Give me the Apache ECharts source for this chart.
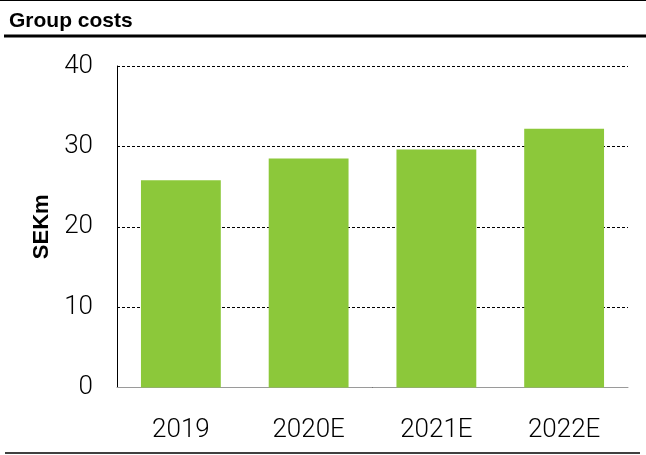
<!DOCTYPE html>
<html>
<head>
<meta charset="utf-8">
<script src="https://cdn.jsdelivr.net/npm/echarts@6/dist/echarts.min.js"></script>
<style>
  html, body { margin: 0; padding: 0; background: #fff; }
  #chart { width: 646px; height: 455px; }
</style>
</head>
<body>
<div id="chart"></div>
<script>
// Group costs, SEKm, actual 2019 and estimates 2020E-2022E
const categories = ['2019', '2020E', '2021E', '2022E'];
const groupCosts = [25.8, 28.5, 29.6, 32.2];
const yTicks = { min: 0, max: 40, interval: 10 };

const chart = echarts.init(document.getElementById('chart'), null, { renderer: 'canvas' });

chart.setOption({
  animation: false,
  backgroundColor: '#ffffff',
  title: {
    text: 'Group costs',
    left: 4,
    top: 6,
    textStyle: {
      fontFamily: 'Liberation Sans',
      fontWeight: 'bold',
      fontSize: 21,
      color: '#000'
    }
  },
  graphic: [
    // rule above the heading
    { type: 'line', shape: { x1: 0, y1: 0.5, x2: 646, y2: 0.5 }, style: { stroke: '#000', lineWidth: 1 } },
    // heavy rule under the heading
    { type: 'line', shape: { x1: 4, y1: 36, x2: 646, y2: 36 }, style: { stroke: '#000', lineWidth: 3 } },
    // closing rule under the chart
    { type: 'line', shape: { x1: 5, y1: 453, x2: 640, y2: 453 }, style: { stroke: '#000', lineWidth: 1.5 } }
  ],
  grid: { left: 117, right: 18, top: 66, bottom: 67.5 },
  xAxis: {
    type: 'category',
    data: categories,
    axisLine: { show: true, lineStyle: { color: '#9a9a9a', width: 1 } },
    axisTick: { show: false },
    axisLabel: {
      margin: 30,
      fontFamily: 'Roboto',
      fontWeight: 300,
      fontSize: 26,
      color: '#000'
    }
  },
  yAxis: {
    type: 'value',
    min: yTicks.min,
    max: yTicks.max,
    interval: yTicks.interval,
    name: 'SEKm',
    nameLocation: 'middle',
    nameGap: 64,
    nameTextStyle: {
      fontFamily: 'Liberation Sans',
      fontWeight: 'bold',
      fontSize: 22,
      color: '#000'
    },
    axisLine: { show: true, lineStyle: { color: '#000', width: 1 } },
    axisTick: { show: false },
    axisLabel: {
      margin: 24,
      fontFamily: 'Roboto',
      fontWeight: 300,
      fontSize: 26,
      color: '#000'
    },
    splitLine: {
      show: true,
      lineStyle: { color: '#000', width: 1.2, type: [3, 2] }
    }
  },
  series: [{
    type: 'bar',
    data: groupCosts,
    barWidth: '62.5%',
    itemStyle: { color: '#8cc83a' }
  }]
});
</script>
</body>
</html>
